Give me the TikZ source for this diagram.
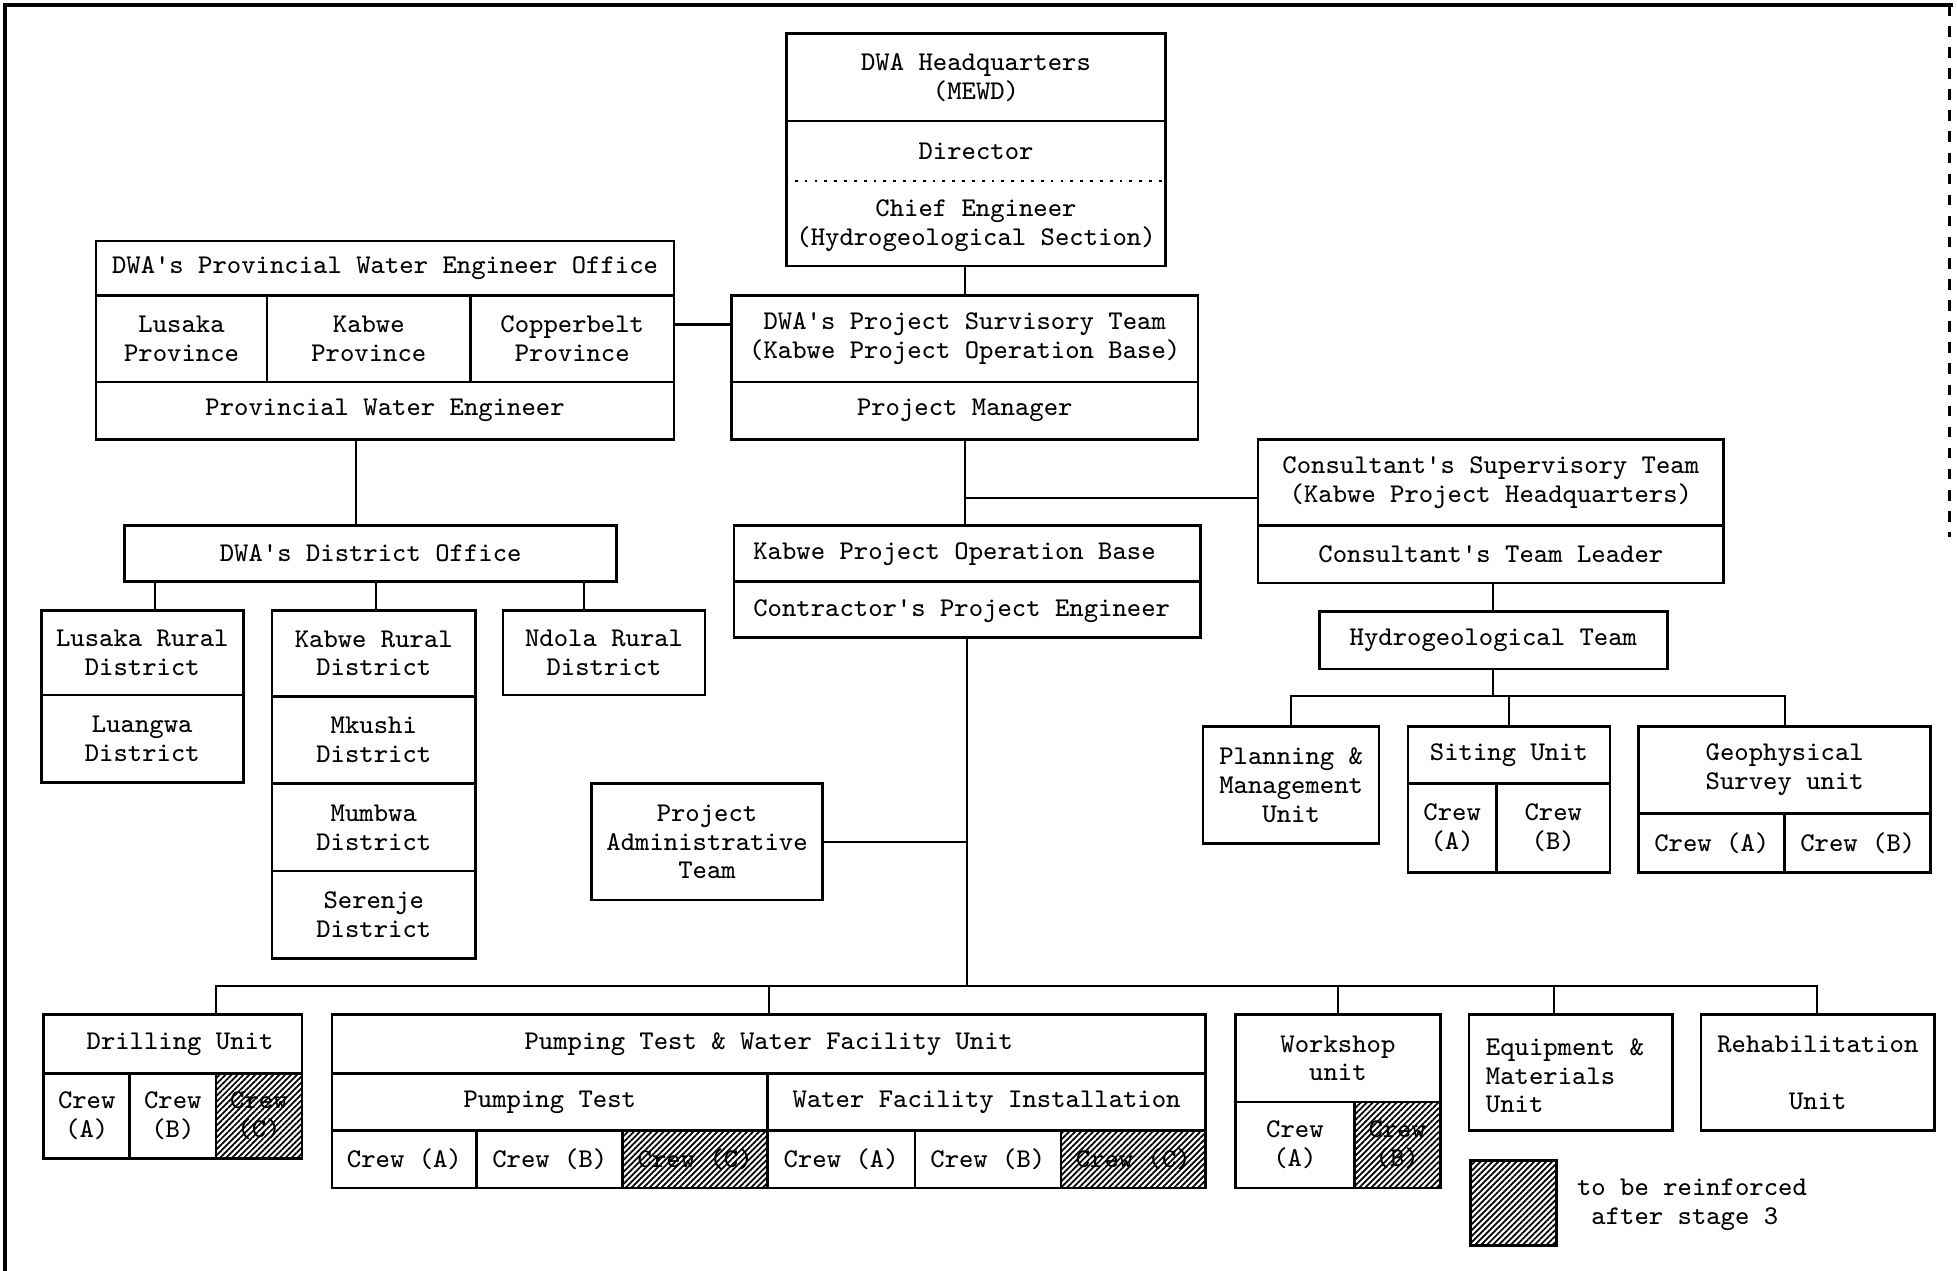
\documentclass[tikz,border=0pt]{standalone}
\usepackage{fontspec}
\usetikzlibrary{patterns.meta}
\newcommand\tf{\ttfamily\fontsize{7.7}{8.2}\selectfont}
\newcommand\mkcell[7][]{\node[box,#1,minimum width={(#5-#3)*0.01248cm},minimum height={(#6-#4)*0.01248cm}] (#2) at ({(#3+#5)/2},{(#4+#6)/2}) {#7};}
\begin{document}
\begin{tikzpicture}[x=0.01248cm,y=-0.01248cm,
  box/.style={draw,line width=0.75pt,inner sep=0pt,align=center,font=\tf},
  txt/.style={inner sep=0pt,align=center,font=\tf},
  hatch/.style={pattern={Lines[angle=45,distance=1.2pt,line width=0.5pt]}},
  link/.style={line width=0.6pt}]
\useasboundingbox (0,0) rectangle (1568,1018);
% frame
\draw[line width=1.3pt] (4,1018) -- (4,4) -- (1565,4);
\draw[line width=0.6pt,dashed] (1562,4) -- (1562,430);
% HQ
\mkcell{hqA}{630}{27}{934}{97}{DWA Headquarters\\(MEWD)}
\mkcell{hqB}{630}{97}{934}{213}{}
\node[txt] (hqdir) at (782,121) {Director};
\node[txt] (hqchief) at (782,181) {Chief Engineer\\(Hydrogeological Section)};
\draw[dotted,line width=0.8pt] (hqB.west |- 0,145) -- (hqB.east |- 0,145);
% Provincial
\mkcell{provT}{77}{193}{540}{237}{DWA's Provincial Water Engineer Office}
\mkcell{provL}{77}{237}{214}{306}{Lusaka\\Province}
\mkcell{provK}{214}{237}{377}{306}{Kabwe\\Province}
\mkcell{provC}{377}{237}{540}{306}{Copperbelt\\Province}
\mkcell{provB}{77}{306}{540}{352}{Provincial Water Engineer}
% Project survisory team
\mkcell{pstA}{586}{237}{960}{306}{DWA's Project Survisory Team\\(Kabwe Project Operation Base)}
\mkcell{pstB}{586}{306}{960}{352}{Project Manager}
\coordinate (pj) at (586,260);
\draw[link] (provC.east |- pj) -- (pj);
\draw[link] (hqB.south -| pstA.north) -- (pstA.north);
% Project operation base
\mkcell{pobA}{588}{421}{962}{466}{}
\node[txt,anchor=west] (pobAt) at (603,444) {Kabwe Project Operation Base};
\mkcell{pobB}{588}{466}{962}{511}{}
\node[txt,anchor=west] (pobBt) at (603,490) {Contractor's Project Engineer};
\draw[link] (pstB.south) -- (pstB.south |- pobA.north);
% Consultant
\mkcell{consA}{1008}{352}{1381}{421}{Consultant's Supervisory Team\\(Kabwe Project Headquarters)}
\mkcell{consB}{1008}{421}{1381}{467}{Consultant's Team Leader}
\coordinate (cj) at (773,399);
\draw[link] (cj) -- (consA.west |- cj);
\mkcell{hydro}{1057}{490}{1336}{536}{Hydrogeological Team}
\draw[link] (hydro.north) -- (hydro.north |- consB.south);
\mkcell{plan}{964}{582}{1105}{676}{Planning \&\\Management\\Unit}
\mkcell{sitA}{1128}{582}{1290}{628}{Siting Unit}
\mkcell{sitB}{1128}{628}{1199}{699}{Crew\\(A)}
\mkcell{sitC}{1199}{628}{1290}{699}{Crew\\(B)}
\mkcell{geoA}{1313}{582}{1547}{652}{Geophysical\\Survey unit}
\mkcell{geoB}{1313}{652}{1430}{699}{Crew (A)}
\mkcell{geoC}{1430}{652}{1547}{699}{Crew (B)}
\coordinate (hb) at (1197,558);
\draw[link] (hydro.south) -- (hydro.south |- hb);
\draw[link] (plan.north) -- (plan.north |- hb) -- (geoA.north |- hb) -- (geoA.north);
\draw[link] (sitA.north) -- (sitA.north |- hb);
% Admin
\mkcell{admin}{474}{628}{659}{721}{Project\\Administrative\\Team}
\coordinate (busM) at (775,790);
\draw[link] (pobB.south) -- (busM);
\draw[link] (admin.east) -- (admin.east -| busM);
% District
\mkcell{dist}{100}{421}{494}{466}{DWA's District Office}
\coordinate (dv) at (285,352);
\draw[link] (dv) -- (dv |- dist.north);
\mkcell{lrA}{33}{489}{195}{557}{Lusaka Rural\\District}
\mkcell{lrB}{33}{557}{195}{627}{Luangwa\\District}
\mkcell{krA}{218}{489}{381}{558}{Kabwe Rural\\District}
\mkcell{krB}{218}{558}{381}{628}{Mkushi\\District}
\mkcell{krC}{218}{628}{381}{698}{Mumbwa\\District}
\mkcell{krD}{218}{698}{381}{768}{Serenje\\District}
\mkcell{nr}{403}{489}{565}{557}{Ndola Rural\\District}
\coordinate (d1) at (124,466);
\coordinate (d2) at (301,466);
\coordinate (d3) at (468,466);
\draw[link] (d1) -- (d1 |- lrA.north);
\draw[link] (d2) -- (d2 |- krA.north);
\draw[link] (d3) -- (d3 |- nr.north);
% Bottom units
\mkcell{drA}{35}{813}{242}{860}{~Drilling Unit}
\mkcell{drB}{35}{860}{104}{928}{Crew\\(A)}
\mkcell{drC}{104}{860}{173}{928}{Crew\\(B)}
\mkcell[hatch]{drD}{173}{860}{242}{928}{Crew\\(C)}
\mkcell{pumpA}{266}{813}{966}{860}{Pumping Test \& Water Facility Unit}
\mkcell{pumpB}{266}{860}{615}{906}{Pumping Test}
\mkcell{pumpC}{615}{860}{966}{906}{Water Facility Installation}
\mkcell{pc1}{266}{906}{382}{952}{Crew (A)}
\mkcell{pc2}{382}{906}{499}{952}{Crew (B)}
\mkcell[hatch]{pc3}{499}{906}{615}{952}{Crew (C)}
\mkcell{pc4}{615}{906}{733}{952}{Crew (A)}
\mkcell{pc5}{733}{906}{850}{952}{Crew (B)}
\mkcell[hatch]{pc6}{850}{906}{966}{952}{Crew (C)}
\mkcell{wsA}{990}{813}{1154}{883}{Workshop\\unit}
\mkcell{wsB}{990}{883}{1085}{952}{Crew\\(A)}
\mkcell[hatch]{wsC}{1085}{883}{1154}{952}{Crew\\(B)}
\mkcell{eq}{1177}{813}{1340}{906}{}
\node[txt,align=left,anchor=west] (eqt) at (1190,862) {Equipment \&\\Materials\\Unit};
\mkcell{rehab}{1363}{813}{1550}{906}{Rehabilitation\\[8.2pt]Unit}
\coordinate (busL) at (173,790);
\coordinate (busR) at (1456,790);
\coordinate (eqx) at (1245,790);
\draw[link] (busL |- drA.north) -- (busL) -- (busR) -- (busR |- rehab.north);
\draw[link] (pumpA.north) -- (pumpA.north |- busL);
\draw[link] (wsA.north) -- (wsA.north |- busL);
\draw[link] (eqx) -- (eqx |- eq.north);
% legend
\mkcell[hatch]{leg}{1178}{930}{1247}{998}{}
\node[txt,align=left,anchor=west] (legt) at (1263,965) {to be reinforced\\~after stage 3};
\end{tikzpicture}
\end{document}
